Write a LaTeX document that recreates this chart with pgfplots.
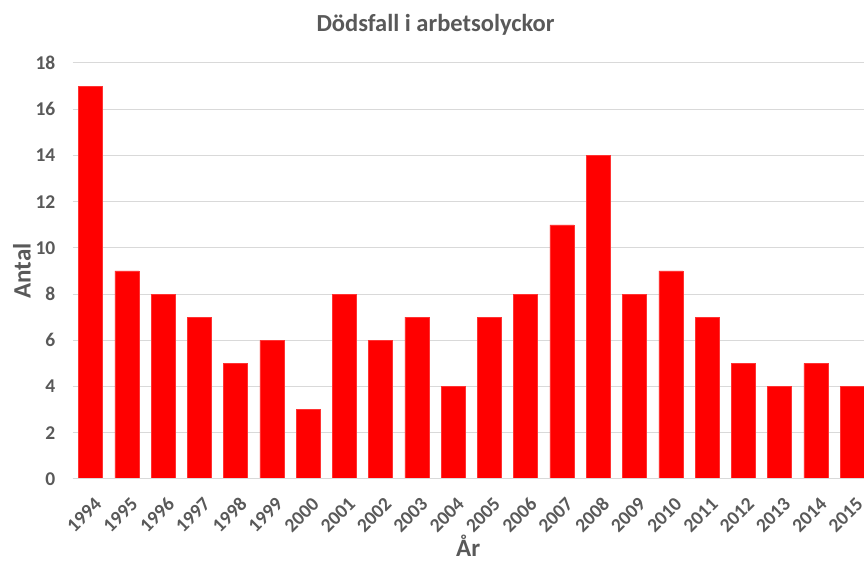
\documentclass[border=0pt]{standalone}
\usepackage{pgfplots}
\pgfplotsset{compat=1.18}
\usepackage{fontspec}
\setmainfont{Carlito}
\definecolor{txtgrey}{HTML}{595959}
\definecolor{gridgrey}{HTML}{D9D9D9}
\begin{document}
\begin{tikzpicture}[x=1pt,y=1pt]
\useasboundingbox (0,0) rectangle (864,561);
\clip (0,0) rectangle (864,561);
\node[font=\fontsize{24.5}{28}\selectfont\bfseries, text=txtgrey] at (435.5,536) {Dödsfall i arbetsolyckor};
\begin{axis}[
  at={(72.5pt,82pt)}, anchor=south west,
  scale only axis, width=791.5pt, height=416pt,
  xmin=-0.5, xmax=21.33, ymin=0, ymax=18,
  ytick={0,2,...,18},
  xtick={0,...,21},
  xticklabels={1994,1995,1996,1997,1998,1999,2000,2001,2002,2003,2004,2005,2006,2007,2008,2009,2010,2011,2012,2013,2014,2015},
  xticklabel style={rotate=45, anchor=north east, inner sep=0pt, xshift=-9.9pt, yshift=-14.1pt},
  yticklabel style={anchor=east, inner sep=0pt, xshift=-17pt},
  ticklabel style={font=\fontsize{19.5}{22}\selectfont\bfseries, text=txtgrey},
  /pgf/number format/assume math mode=true,
  major tick length=0pt,
  axis line style={draw=none},
  axis x line*=bottom, axis y line*=left,
  ymajorgrids, grid style={gridgrey, line width=1pt},
  xlabel={År}, ylabel={Antal},
  label style={font=\fontsize{25}{28}\selectfont\bfseries, text=txtgrey},
  xlabel style={at={(0.5,0)}, anchor=center, yshift=-67pt},
  every axis y label/.style={at={([xshift=-50.5pt]axis description cs:0,0.5)}, anchor=center, rotate=90, font=\fontsize{25}{28}\selectfont\bfseries, text=txtgrey},
  clip=true,
]
\addplot[ybar, bar width=24pt, fill=red, draw=red!80!white, line width=0.5pt] coordinates {
(0,17) (1,9) (2,8) (3,7) (4,5) (5,6) (6,3) (7,8) (8,6) (9,7) (10,4)
(11,7) (12,8) (13,11) (14,14) (15,8) (16,9) (17,7) (18,5) (19,4) (20,5) (21,4)};
\draw[gridgrey, line width=1pt] (axis cs:-0.5,0) -- (axis cs:21.33,0);
\end{axis}
\end{tikzpicture}
\end{document}
